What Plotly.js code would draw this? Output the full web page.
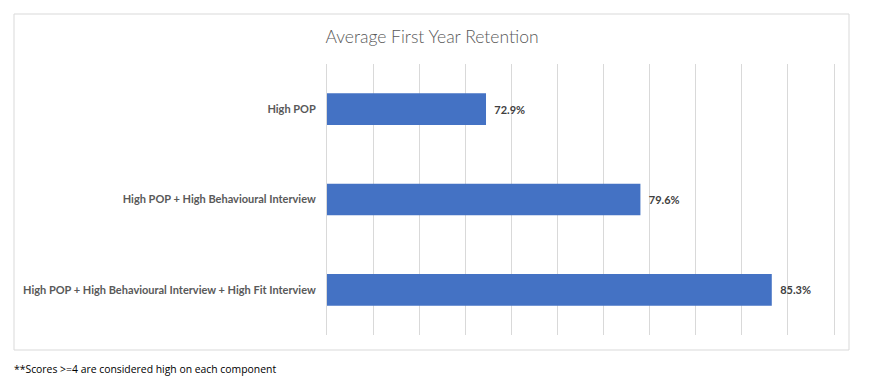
<!DOCTYPE html>
<html>
<head>
<meta charset="utf-8">
<script src="https://cdn.plot.ly/plotly-3.0.1.min.js"></script>
<style>html,body{margin:0;padding:0;background:#fff;}</style>
</head>
<body>
<div id="chart" style="width:884px;height:383px;"></div>
<script>
const categories = [
  "High POP",
  "High POP + High Behavioural Interview",
  "High POP + High Behavioural Interview + High Fit Interview"
];
const values = [72.9, 79.6, 85.3];
const axisRange = [66, 88];
const titleText = "Average First Year Retention";
const footnote = "**Scores >=4 are considered high on each component";

const labels = values.map(v => "\u00a0\u00a0" + v.toFixed(1) + "%");

const trace = {
  type: "bar",
  orientation: "h",
  y: categories,
  x: values,
  marker: {color: "#4472C4"},
  text: labels,
  textposition: "outside",
  textfont: {family: "Lato, Carlito, Calibri, sans-serif", size: 11, color: "#404040", weight: 700},
  cliponaxis: false,
  hoverinfo: "none"
};

const L = 327, R = 834, T = 64, B = 335;
const W = 884, H = 383;
const pw = R - L, ph = B - T;
const px = p => (p - L) / pw;
const py = p => (B - p) / ph;

const layout = {
  width: W, height: H,
  margin: {l: L, r: W - R, t: T, b: H - B, pad: 0},
  paper_bgcolor: "#ffffff",
  plot_bgcolor: "#ffffff",
  showlegend: false,
  bargap: 0.65,
  title: {
    text: titleText,
    font: {family: "Lato, Carlito, Calibri, sans-serif", size: 17.5, color: "#595959", weight: 300},
    xref: "container", x: 432 / W, xanchor: "center",
    yref: "container", y: 1 - 37 / H, yanchor: "middle"
  },
  xaxis: {
    range: axisRange,
    tick0: 0, dtick: 2,
    showgrid: true, gridcolor: "#d9d9d9", gridwidth: 1,
    showticklabels: false, zeroline: false, showline: false, ticks: "",
    fixedrange: true
  },
  yaxis: {
    type: "category",
    autorange: "reversed",
    showgrid: false, zeroline: false,
    showline: true, mirror: true, linecolor: "#d9d9d9", linewidth: 1,
    ticks: "",
    ticklabelstandoff: 8,
    tickfont: {family: "Lato, Carlito, Calibri, sans-serif", size: 11, color: "#595959", weight: 700},
    fixedrange: true
  },
  shapes: [{
    type: "rect", xref: "paper", yref: "paper",
    x0: px(14), x1: px(849), y0: py(350), y1: py(14),
    line: {color: "#d9d9d9", width: 1}, fillcolor: "rgba(0,0,0,0)", layer: "below"
  }],
  annotations: [{
    text: footnote, xref: "paper", yref: "paper",
    x: px(12), y: py(369), xanchor: "left", yanchor: "middle",
    showarrow: false,
    font: {family: "Open Sans, sans-serif", size: 10.4, color: "#000000"}
  }]
};

Plotly.newPlot("chart", [trace], layout, {displayModeBar: false, staticPlot: true});
</script>
</body>
</html>
